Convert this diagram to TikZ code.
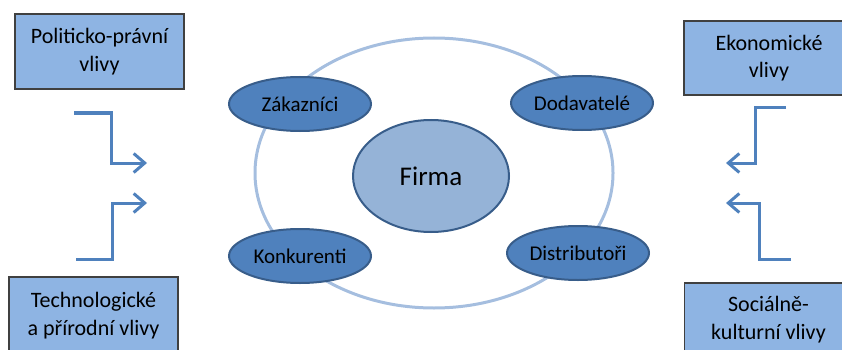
\documentclass[tikz,border=0pt]{standalone}
\usepackage{fontspec}
\setmainfont{Carlito}
\usetikzlibrary{arrows.meta,shapes.geometric}
\definecolor{envfill}{HTML}{8EB4E3}
\definecolor{envdraw}{HTML}{404040}
\definecolor{ringblue}{HTML}{A5BEDF}
\definecolor{firmfill}{HTML}{95B3D7}
\definecolor{actfill}{HTML}{4F81BD}
\definecolor{actdraw}{HTML}{385D8A}
\definecolor{flowblue}{HTML}{4F81BD}

\begin{document}
\begin{tikzpicture}[
  x=1pt, y=-1pt,
  env/.style={draw=envdraw, line width=1.2pt, fill=envfill, rectangle,
              minimum width=169pt, minimum height=75pt, align=center,
              inner sep=0pt, font=\fontsize{22}{27.5}\selectfont},
  actor/.style={ellipse, draw=actdraw, line width=2pt, fill=actfill,
                minimum width=142pt, minimum height=54pt, inner sep=0pt,
                font=\fontsize{21}{24}\selectfont},
  firm/.style={ellipse, draw=actdraw, line width=2pt, fill=firmfill,
               minimum width=156pt, minimum height=112pt, inner sep=0pt,
               font=\fontsize{27}{30}\selectfont},
  ring/.style={ellipse, draw=ringblue, line width=3pt, inner sep=0pt,
               minimum width=358pt, minimum height=270pt},
  flow/.style={draw=flowblue, line width=3pt,
               -{Straight Barb[length=11pt,width=19pt]}},
]
  \clip (0,0) rectangle (842,350);

  % Outer ring and the firm in its centre.
  \node[ring] (circle) at (434,173) {};
  \node[firm] (firma) at (431,176) {Firma};

  % Market actors around the firm.
  \node[actor] (zakaznici) at (300,104) {Zákazníci};
  \node[actor] (dodavatele) at (582,103) {Dodavatelé};
  \node[actor] (konkurenti) at (300,256) {Konkurenti};
  \node[actor] (distributori) at (578,253) {Distributoři};

  % Outside influences.
  \node[env] (politicke) at (99.5,51.5) {Politicko-právní\\vlivy};
  \node[env, minimum height=77pt] (technologicke) at (93.5,315.5)
    {Technologické\\a přírodní vlivy};
  \node[env, minimum width=170pt, minimum height=74pt] (ekonomicke) at (769,58)
    {Ekonomické\\vlivy};
  \node[env, minimum width=168pt, minimum height=73pt] (socialni) at (768.5,319.5)
    {Sociálně-\\kulturní vlivy};

  % Stepped arrows pointing towards the ring.
  \coordinate (pol-start) at (74,113);
  \coordinate (pol-end) at (147,163);
  \coordinate (tech-start) at (76,259);
  \coordinate (tech-end) at (147,203);
  \coordinate (eko-start) at (786,108);
  \coordinate (eko-end) at (726,163);
  \coordinate (soc-start) at (791,259);
  \coordinate (soc-end) at (726,203);
  \draw[flow] (pol-start) -- ++(37,0) |- (pol-end);
  \draw[flow] (tech-start) -- ++(36,0) |- (tech-end);
  \draw[flow] (eko-start) -- ++(-31,0) |- (eko-end);
  \draw[flow] (soc-start) -- ++(-32,0) |- (soc-end);
\end{tikzpicture}
\end{document}
